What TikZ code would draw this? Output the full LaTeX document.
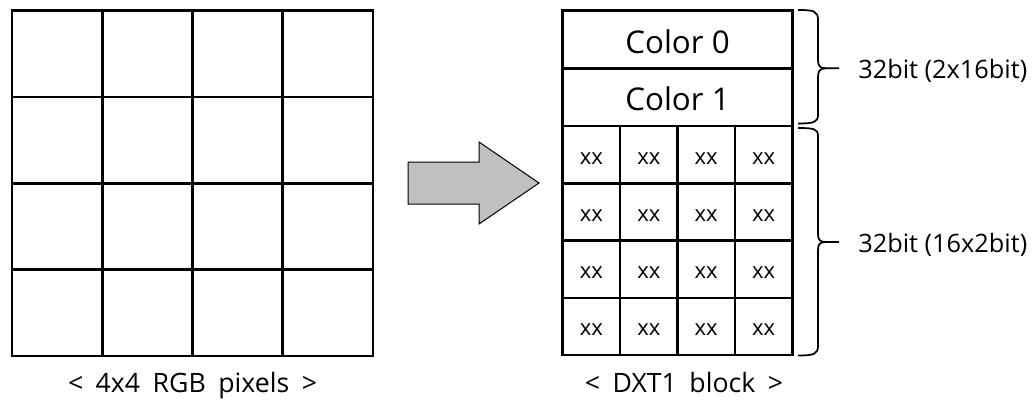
\documentclass[tikz,border=0pt]{standalone}
\usepackage{fontspec}
\setmainfont{Open Sans}
\newfontfamily\captionfont[WordSpace=1.8]{Open Sans}
\usetikzlibrary{calc}
\begin{document}
\begin{tikzpicture}[x=0.75pt,y=-0.75pt,
  pix/.style={draw=black, line width=2pt, inner sep=0pt, outer sep=0pt,
    minimum width=90.25*0.75pt, minimum height=86.3*0.75pt},
  colrow/.style={draw=black, line width=2pt, inner sep=0pt, outer sep=0pt,
    minimum width=229.6*0.75pt, minimum height=58*0.75pt},
  idx/.style={draw=black, line width=2pt, inner sep=0pt, outer sep=0pt,
    minimum width=57.4*0.75pt, minimum height=57.25*0.75pt},
  bigtxt/.style={font=\fontsize{23.5}{27}\selectfont, anchor=base, inner sep=0pt},
  idxtxt/.style={font=\fontsize{16.5}{19}\selectfont, anchor=base, inner sep=0pt},
  sidetxt/.style={font=\fontsize{19}{23}\selectfont, anchor=base west, inner sep=0pt},
  captxt/.style={font=\captionfont\fontsize{20}{24}\selectfont, anchor=base, inner sep=0pt},
  bracestyle/.style={draw=black, line width=1.3pt},
  bigarrow/.style={draw=black, line width=0.75pt, fill=arrowgray, line join=miter}]
\definecolor{arrowgray}{HTML}{C0C0C0}
\useasboundingbox (0,0) rectangle (1035,400);

% 4x4 RGB pixel grid
\foreach \r in {0,...,3}
  \foreach \c in {0,...,3}
    \node[pix] (px-\r-\c) at ({12+90.25*(\c+0.5)}, {10.7+86.3*(\r+0.5)}) {};
\node[captxt] (pixcap) at (192.5,392) {< 4x4 RGB pixels >};

% conversion arrow
\draw[bigarrow] (408,162) -- (479,162) -- (479,142) -- (539,183)
  -- (479,224) -- (479,204) -- (408,204) -- cycle;

% DXT1 block: two colour rows
\node[colrow] (c0) at (677.5,39.2) {};
\node[colrow] (c1) at (677.5,97.1) {};
\node[bigtxt] at ($(c0.center)+(0,14)$) {Color 0};
\node[bigtxt] at ($(c1.center)+(0,13.5)$) {Color 1};

% DXT1 block: 2-bit indices
\foreach \r in {0,...,3}
  \foreach \c in {0,...,3} {
    \node[idx] (ix-\r-\c) at ({562.7+57.4*(\c+0.5)}, {126.1+57.25*(\r+0.5)}) {};
    \node[idxtxt] at ($(ix-\r-\c.center)+(0,9.5)$) {xx};
  }
\node[captxt] (dxtcap) at (684,392) {< DXT1 block >};

% braces
\coordinate (b1tip) at (839,68.3);
\coordinate (b2tip) at (839,242);
\draw[bracestyle] (798,10) .. controls (814,10) and (818,11) .. (818,20)
  -- (818,60) .. controls (818,66) and (820,68.3) .. (826,68.3) -- (b1tip);
\draw[bracestyle] (826,68.3) .. controls (820,68.3) and (818,71) .. (818,77)
  -- (818,115) .. controls (818,122) and (814,123.5) .. (798,123.5);
\draw[bracestyle] (798,128) .. controls (814,128) and (818,129) .. (818,136)
  -- (818,234) .. controls (818,240) and (820,242) .. (826,242) -- (b2tip);
\draw[bracestyle] (826,242) .. controls (820,242) and (818,244) .. (818,250)
  -- (818,346) .. controls (818,354) and (814,355.5) .. (798,355.5);

\node[sidetxt] (lab1) at ($(b1tip)+(19,10)$) {32bit (2x16bit)};
\node[sidetxt] (lab2) at ($(b2tip)+(19,10)$) {32bit (16x2bit)};
\end{tikzpicture}
\end{document}
